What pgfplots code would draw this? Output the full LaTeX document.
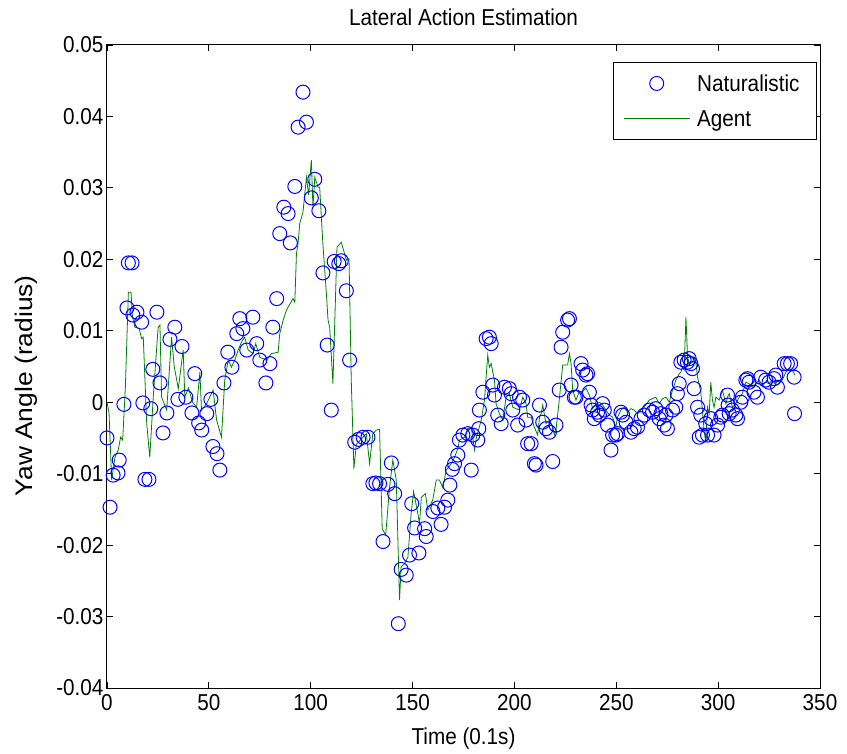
\documentclass[border=0pt]{standalone}
\usepackage{fontspec}
\setmainfont{Liberation Sans}[FakeStretch=0.9]
\newfontfamily\ylabfont{Liberation Sans}[FakeStretch=1.1]
\usepackage{pgfplots}
\pgfplotsset{compat=1.18}
\usepackage{pgfplotstable}

\definecolor{natblue}{RGB}{0,0,255}
\definecolor{agentgreen}{RGB}{0,128,0}

% Naturalistic yaw angle samples
\pgfplotstableread{
t y
0 -0.0050
1.5 -0.0147
3 -0.0102
5.4 -0.0099
6 -0.0081
8.3 -0.0003
9.8 0.0132
10.5 0.0195
12.3 0.0195
12.7 0.0122
14.7 0.0126
17 0.0112
17.6 -0.0001
18.6 -0.0108
20.6 -0.0108
21.5 -0.0009
22.5 0.0046
24.5 0.0126
26 0.0027
27.5 -0.0043
29.4 -0.0015
30.9 0.0088
33.3 0.0105
34.8 0.0004
36.8 0.0078
38.7 0.0007
41.7 -0.0015
43.1 0.0040
45 -0.0029
46.5 -0.0039
49 -0.0016
51 0.0004
52 -0.0062
54 -0.0072
55.4 -0.0095
57.4 0.0027
59.3 0.0070
61.3 0.0049
63.7 0.0096
65.2 0.0117
66.7 0.0103
68.6 0.0073
71.6 0.0119
73.5 0.0082
75 0.0059
78 0.0027
80 0.0054
81.4 0.0105
83.3 0.0145
84.8 0.0236
86.8 0.0273
88.9 0.0264
90 0.0223
92.2 0.0302
93.8 0.0385
96.2 0.0434
97.9 0.0392
100.3 0.0286
102 0.0312
104 0.0268
106 0.0181
108.1 0.0080
110.1 -0.0011
111.5 0.0197
113.8 0.0194
115 0.0198
117.5 0.0156
119.1 0.0059
121.6 -0.0056
123.5 -0.0052
125.7 -0.0049
128.1 -0.0049
130.5 -0.0114
132 -0.0113
133.8 -0.0114
135.5 -0.0195
137.9 -0.0115
139.6 -0.0085
141.2 -0.0128
143 -0.0310
144.4 -0.0234
146.9 -0.0242
148.5 -0.0214
149.6 -0.0142
151 -0.0176
153.1 -0.0211
155.9 -0.0177
156.7 -0.0188
160 -0.0153
162.4 -0.0148
164 -0.0171
165.7 -0.0147
167.3 -0.0137
168.3 -0.0116
169.5 -0.0094
170.6 -0.0086
172.2 -0.0074
173 -0.0053
174.7 -0.0046
177.1 -0.0044
178.8 -0.0095
179.6 -0.0046
182 -0.0053
182.5 -0.0037
182.8 -0.0011
184.5 0.0014
186.1 0.0089
187.7 0.0091
188.6 0.0082
189.4 0.0024
190.2 0.0010
191.8 -0.0018
193.5 -0.0030
195.1 0.0021
197.5 0.0019
198.4 0.0012
199.2 -0.0011
201.6 -0.0032
202.5 0.0007
204.1 0.0003
205.7 -0.0025
206.5 -0.0058
208.2 -0.0058
209.8 -0.0086
210.6 -0.0088
212.3 -0.0004
213.9 -0.0028
215.5 -0.0037
217.2 -0.0042
218.8 -0.0083
220.4 -0.0032
222 0.0017
222.9 0.0077
223.7 0.0098
226.1 0.0115
227 0.0117
227.8 0.0024
229.4 0.0007
230.2 0.0007
232.7 0.0054
233.5 0.0045
235.1 0.0038
235.9 0.0040
236.8 0.0014
237.6 -0.0004
238.4 -0.0011
239.2 -0.0023
240.8 -0.0014
241.7 -0.0018
243.3 -0.0002
244.1 -0.0011
245.7 -0.0032
247.4 -0.0067
248.2 -0.0046
249.8 -0.0046
250.6 -0.0044
252.3 -0.0014
253.1 -0.0018
254.8 -0.0028
257.2 -0.0042
258.8 -0.0037
260.4 -0.0035
262.1 -0.0023
263.7 -0.0018
266.2 -0.0011
267.8 -0.0014
269.4 -0.0009
271.1 -0.0023
271.9 -0.0016
273.5 -0.0032
274.4 -0.0018
275.1 -0.0037
277.6 -0.0011
279.2 -0.0007
280 0.0012
280.9 0.0026
281.7 0.0056
283.3 0.0059
284.9 0.0056
285.8 0.0061
286.6 0.0054
287.4 0.0047
288.2 0.0019
289.9 -0.0007
290.7 -0.0049
291.5 -0.0018
292.3 -0.0046
293.9 -0.0030
294.8 -0.0046
296.4 -0.0023
298 -0.0046
299.7 -0.0032
301.3 -0.0021
302.1 -0.0018
304.6 0.0010
304.9 -0.0004
305.4 -0.0016
307 -0.0011
308.7 -0.0018
309.5 -0.0023
311.1 0.0000
311.9 0.0007
313.6 0.0031
314.4 0.0033
315.2 0.0028
317.6 0.0014
319.3 0.0007
320.9 0.0035
323.3 0.0031
325 0.0028
327.5 0.0033
328.3 0.0038
329.1 0.0021
332.4 0.0054
334 0.0054
335.6 0.0054
337.3 0.0035
337.5 -0.0016
}\naturalistic

% Agent yaw angle trace
\pgfplotstableread{
t y
0 0.0000
1 -0.0015
2.3 -0.0109
3.9 -0.0077
5.5 -0.0067
6.7 -0.0049
7.7 -0.0053
9 0.0020
10.5 0.0154
11.8 0.0154
12.5 0.0120
13.7 0.0105
15.8 0.0103
17 0.0089
17.8 0.0091
19.5 -0.0030
21 -0.0077
22.7 0.0007
25.1 0.0105
26 0.0108
26.8 0.0007
29.3 -0.0011
31.7 0.0091
33 0.0050
35 0.0019
37.4 0.0073
38.2 0.0007
40 0.0020
42 0.0000
44 -0.0007
45.6 0.0042
46.4 -0.0011
48.9 -0.0002
52.1 0.0017
53.8 -0.0025
56.2 -0.0049
57.8 0.0031
59.5 0.0059
61.1 0.0049
62.7 0.0059
64.4 0.0073
66 0.0084
67.6 0.0091
69.3 0.0073
71.7 0.0068
73 0.0082
75 0.0063
78.3 0.0059
80.7 0.0068
84 0.0070
84.8 0.0096
86.5 0.0115
88.1 0.0129
91.3 0.0145
92.2 0.0140
93 0.0208
93.8 0.0222
94.6 0.0250
96.2 0.0266
97.9 0.0315
99 0.0290
100.3 0.0339
101.1 0.0273
102 0.0315
103.6 0.0301
104.4 0.0301
106 0.0220
107.7 0.0152
108.5 0.0115
109.3 0.0105
110.9 0.0026
112.9 0.0217
115 0.0224
115.9 0.0215
117.5 0.0199
118.8 0.0201
119.1 0.0157
119.9 0.0031
121.2 -0.0093
122.4 -0.0059
125.7 -0.0049
127.3 -0.0044
128.9 -0.0086
130.5 -0.0044
132.2 -0.0039
133.8 -0.0038
135.1 -0.0177
136.8 -0.0186
138.7 -0.0119
140.3 -0.0081
142 -0.0109
143.6 -0.0277
144.4 -0.0230
146.1 -0.0226
147.7 -0.0217
149.3 -0.0156
150.5 -0.0125
152.6 -0.0156
153.4 -0.0170
154.3 -0.0133
156.3 -0.0128
157.5 -0.0151
159.9 -0.0137
161.6 -0.0109
163.2 -0.0109
164.9 -0.0120
166.5 -0.0095
169 -0.0086
170.6 -0.0077
172.2 -0.0065
173 -0.0053
175.5 -0.0049
177.1 -0.0037
178.8 -0.0035
180.4 -0.0067
181.2 -0.0051
183.7 -0.0025
185.3 0.0003
186.1 0.0035
186.9 0.0066
187.7 0.0049
188.6 0.0054
189.4 0.0042
190.2 0.0031
191 -0.0002
192.6 -0.0016
194.3 -0.0025
195.9 0.0007
197.5 0.0012
199.2 -0.0007
202.5 -0.0011
204.1 0.0007
205.7 -0.0002
206.5 -0.0021
208.2 -0.0021
209.8 -0.0035
211.4 -0.0046
212.3 -0.0021
213.1 -0.0016
213.9 -0.0004
215.5 -0.0030
217.2 -0.0025
218.8 -0.0035
219.6 -0.0046
220.4 -0.0039
222 0.0003
223.7 0.0052
226.1 0.0052
227 0.0068
227.8 0.0054
228.6 0.0017
230.2 0.0003
231.9 0.0015
233.5 0.0015
235.1 0.0020
236.8 0.0010
238.4 -0.0009
240 -0.0003
241.7 0.0000
243.3 -0.0004
244.9 -0.0011
246.6 -0.0018
248.2 -0.0021
249.8 -0.0035
250.6 -0.0021
252.3 -0.0011
253.9 -0.0007
255.5 -0.0014
257.2 -0.0009
258.8 -0.0011
260.4 -0.0016
262.1 -0.0011
263.7 -0.0007
266.2 0.0003
267.8 0.0005
269.4 0.0007
271.1 -0.0002
272.7 0.0005
274.4 0.0007
276 0.0000
277.6 0.0017
279.3 0.0031
280.9 0.0040
281.7 0.0042
282.5 0.0049
283.3 0.0045
284.2 0.0119
285 0.0063
285.8 0.0054
287.4 0.0056
288.2 0.0063
289.1 0.0055
289.9 0.0035
291.5 0.0014
293.1 -0.0039
293.9 -0.0056
294.8 -0.0007
295.6 -0.0016
296.4 0.0028
297.2 0.0003
298 -0.0007
298.9 0.0007
300.5 0.0003
302.1 0.0017
303.8 -0.0002
304.6 0.0007
305.4 0.0012
306.2 0.0003
307 -0.0007
308.7 -0.0002
310.3 0.0007
311.9 0.0012
313.6 0.0028
315.2 0.0026
316.8 0.0021
318.5 0.0026
320.1 0.0031
321.7 0.0024
323.4 0.0028
325 0.0026
326.6 0.0031
328.3 0.0024
329.9 0.0026
331.5 0.0031
333.2 0.0042
334.8 0.0047
336.4 0.0045
337.7 0.0038
}\agent

\newcommand{\txtfont}{\fontsize{23bp}{27bp}\selectfont}

\begin{document}
\begin{tikzpicture}
\begin{axis}[
  at={(0,0)}, anchor=south west,
  scale only axis,
  width=713bp, height=643bp,
  xmin=0, xmax=350, ymin=-0.04, ymax=0.05,
  clip=false,
  axis line style={line width=1bp},
  major tick style={line width=0.9bp, black},
  major tick length=6bp,
  tick align=inside,
  xtick={0,50,100,150,200,250,300,350},
  xticklabels={0,50,100,150,200,250,300,350},
  ytick={-0.04,-0.03,-0.02,-0.01,0,0.01,0.02,0.03,0.04,0.05},
  yticklabels={-0.04,-0.03,-0.02,-0.01,0,0.01,0.02,0.03,0.04,0.05},
  scaled y ticks=false,
  tick label style={font=\txtfont},
  xticklabel style={yshift=-3bp},
  title={Lateral Action Estimation},
  title style={font=\txtfont, at={(axis description cs:0.5,1.034)}, anchor=center},
  xlabel={Time (0.1s)},
  xlabel style={font=\txtfont, at={(axis description cs:0.5,-0.078)}, anchor=center},
  ylabel={Yaw Angle (radius)},
  ylabel style={font=\fontsize{24bp}{28bp}\ylabfont, at={(axis description cs:-0.1136,0.47)}, anchor=center},
  legend image code/.code={
    \draw[mark repeat=2, mark phase=2, #1]
      plot coordinates {(0bp,0bp) (33bp,0bp) (66bp,0bp)};
  },
  legend style={
    at={(rel axis cs:0.9958,0.9736)}, anchor=north east,
    draw=black, line width=1bp, fill=white,
    inner xsep=10bp, inner ysep=10bp,
    row sep=13bp,
    font=\txtfont,
    nodes={inner xsep=7bp, inner ysep=0bp, text height=19bp, text depth=3bp},
    cells={anchor=west},
  },
]
\addplot[only marks, mark=o, mark size=7bp, natblue,
  mark options={line width=1bp}] table[x=t, y=y] {\naturalistic};
\addlegendentry{Naturalistic}
\addplot[agentgreen, line width=0.8bp, mark=none] table[x=t, y=y] {\agent};
\addlegendentry{Agent}
\end{axis}
\pgfresetboundingbox
\useasboundingbox (-107bp,-66bp) rectangle (740bp,688bp);
\end{tikzpicture}
\end{document}
